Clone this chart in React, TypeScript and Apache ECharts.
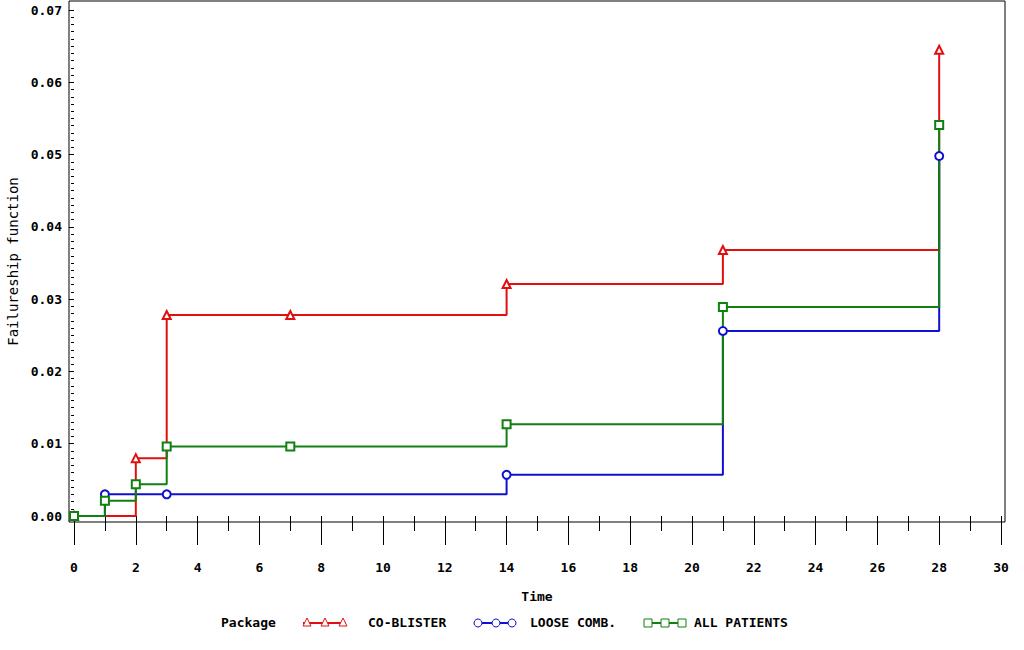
import React, { useEffect, useRef } from "react";
import * as echarts from "echarts";

const coBlisterTime = [0, 2, 3, 7, 14, 21, 28];
const coBlisterValues = [0, 0.008, 0.0278, 0.0278, 0.0321, 0.0368, 0.0645];
const looseTime = [0, 1, 3, 14, 21, 28];
const looseValues = [0, 0.003, 0.003, 0.0057, 0.0256, 0.0498];
const allTime = [0, 1, 2, 3, 7, 14, 21, 28];
const allValues = [0, 0.0021, 0.0044, 0.0096, 0.0096, 0.0127, 0.0289, 0.0541];

const xMajorTicks = [0, 2, 4, 6, 8, 10, 12, 14, 16, 18, 20, 22, 24, 26, 28, 30];
const xMinorTicks = [1, 3, 5, 7, 9, 11, 13, 15, 17, 19, 21, 23, 25, 27, 29];
const yMajorTicks = [0, 0.01, 0.02, 0.03, 0.04, 0.05, 0.06, 0.07];
const yMinorTicks: number[] = [];
for (let i = 1; i < 70; i++) if (i % 10 !== 0) yMinorTicks.push(i / 1000);

const seriesNames = ["CO-BLISTER", "LOOSE COMB.", "ALL PATIENTS"];
const colors = ["#e01010", "#1010d0", "#108010"];

const FONT = "DejaVu Sans Mono";

export default function App() {
  const ref = useRef<HTMLDivElement>(null);
  useEffect(() => {
    if (!ref.current) return;
    const chart = echarts.init(ref.current, null, { renderer: "svg" });
    const zip = (t: number[], v: number[]) => t.map((x, i) => [x, v[i]]);
    const xMin = -0.162, xMax = 30.13;
    const yMin = -0.00083, yMax = 0.07125;
    const tickText = { fontFamily: FONT, fontSize: 13, fontWeight: "bold" as const, color: "#000" };

    const legendY = 623;
    const legendItems = [
      { x0: 303, x1: 346, marks: [307, 325, 343], tx: 368, sym: "tri" },
      { x0: 474, x1: 516, marks: [478, 496, 512], tx: 530, sym: "circ" },
      { x0: 644, x1: 686, marks: [648, 665, 682], tx: 694, sym: "sq" },
    ];
    const graphics: any[] = [
      { type: "text", left: 221, top: legendY - 7, style: { text: "Package", font: `bold 13px "${FONT}"`, fill: "#000" } },
    ];
    legendItems.forEach((it, k) => {
      const c = colors[k];
      graphics.push({ type: "line", shape: { x1: it.x0, y1: legendY, x2: it.x1, y2: legendY }, style: { stroke: c, lineWidth: 2 } });
      it.marks.forEach((m) => {
        if (it.sym === "tri")
          graphics.push({ type: "polygon", shape: { points: [[m, legendY - 5], [m - 4, legendY + 3], [m + 4, legendY + 3]] }, style: { stroke: c, fill: "#fff", lineWidth: 1 } });
        else if (it.sym === "circ")
          graphics.push({ type: "circle", shape: { cx: m, cy: legendY, r: 4 }, style: { stroke: c, fill: "#fff", lineWidth: 1 } });
        else
          graphics.push({ type: "rect", shape: { x: m - 4, y: legendY - 4, width: 8, height: 8 }, style: { stroke: c, fill: "#fff", lineWidth: 1 } });
      });
      graphics.push({ type: "text", left: it.tx, top: legendY - 7, style: { text: seriesNames[k], font: `bold 13px "${FONT}"`, fill: "#000" } });
    });

    chart.setOption({
      animation: false,
      backgroundColor: "#fff",
      grid: { left: 69, right: 19, top: 1, bottom: 128, show: true, borderColor: "#000", borderWidth: 1, backgroundColor: "transparent", containLabel: false, outerBoundsMode: "none" },
      xAxis: [
        {
          type: "value", min: xMin, max: xMax, position: "bottom",
          name: "Time", nameLocation: "middle", nameGap: 68,
          nameTextStyle: { ...tickText },
          axisLine: { show: false },
          axisTick: { show: true, length: 29, customValues: xMajorTicks, lineStyle: { color: "#000", width: 1 } },
          axisLabel: { show: true, margin: 39, customValues: xMajorTicks, ...tickText },
          splitLine: { show: false },
        },
        {
          type: "value", min: xMin, max: xMax, position: "bottom",
          axisLine: { show: false },
          axisTick: { show: true, length: 15, customValues: xMinorTicks, lineStyle: { color: "#000", width: 1 } },
          axisLabel: { show: false },
          splitLine: { show: false },
        },
      ],
      yAxis: [
        {
          type: "value", min: yMin, max: yMax, position: "left",
          name: "Failureship function", nameLocation: "middle", nameGap: 46, nameRotate: 90,
          nameTextStyle: { fontFamily: FONT, fontSize: 14, color: "#000" },
          axisLine: { show: false },
          axisTick: { show: true, length: 5, customValues: yMajorTicks, lineStyle: { color: "#000", width: 1 } },
          axisLabel: { show: true, margin: 7, customValues: yMajorTicks, formatter: (v: number) => v.toFixed(2), ...tickText },
          splitLine: { show: false },
        },
        {
          type: "value", min: yMin, max: yMax, position: "left",
          axisLine: { show: false },
          axisTick: { show: true, length: 3, customValues: yMinorTicks, lineStyle: { color: "#000", width: 1 } },
          axisLabel: { show: false },
          splitLine: { show: false },
        },
      ],
      series: [
        { name: seriesNames[0], type: "line", step: "end", data: zip(coBlisterTime, coBlisterValues), symbol: "emptyTriangle", symbolSize: 8, showAllSymbol: true, color: colors[0], lineStyle: { width: 2, color: colors[0] }, itemStyle: { color: colors[0], borderWidth: 1 } },
        { name: seriesNames[1], type: "line", step: "end", data: zip(looseTime, looseValues), symbol: "emptyCircle", symbolSize: 8, showAllSymbol: true, color: colors[1], lineStyle: { width: 2, color: colors[1] }, itemStyle: { color: colors[1], borderWidth: 1 } },
        { name: seriesNames[2], type: "line", step: "end", data: zip(allTime, allValues), symbol: "emptyRect", symbolSize: 8, showAllSymbol: true, color: colors[2], lineStyle: { width: 2, color: colors[2] }, itemStyle: { color: colors[2], borderWidth: 1 } },
      ],
      graphic: graphics,
    });
    return () => chart.dispose();
  }, []);
  return <div ref={ref} style={{ position: "fixed", left: 0, top: 0, width: 1024, height: 650, background: "#fff" }} />;
}
